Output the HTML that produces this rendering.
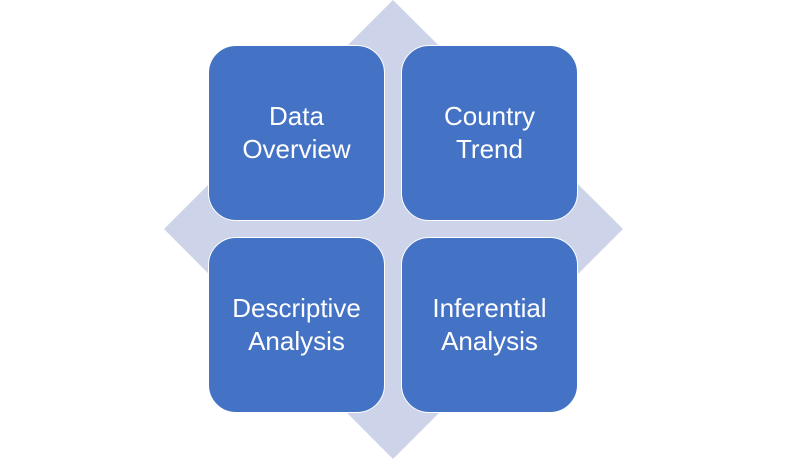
<!DOCTYPE html>
<html><head><style>
html,body{margin:0;padding:0;background:#fff;width:786px;height:459px;overflow:hidden;position:relative}
.b{position:absolute;width:177px;height:176px;background:#4472C4;border:1.5px solid #fff;box-sizing:border-box;border-radius:28px;color:#fff;font-family:"Liberation Sans",sans-serif;font-size:26px;line-height:33px;text-align:center;display:flex;align-items:center;justify-content:center}
</style></head><body>
<svg width="786" height="459" style="position:absolute;left:0;top:0"><polygon points="393,0 623,229 393,459 164,229" fill="#CDD3E8"/></svg>
<div class="b" style="left:208px;top:45px">Data<br>Overview</div>
<div class="b" style="left:401px;top:45px">Country<br>Trend</div>
<div class="b" style="left:208px;top:237px">Descriptive<br>Analysis</div>
<div class="b" style="left:401px;top:237px">Inferential<br>Analysis</div>
</body></html>
